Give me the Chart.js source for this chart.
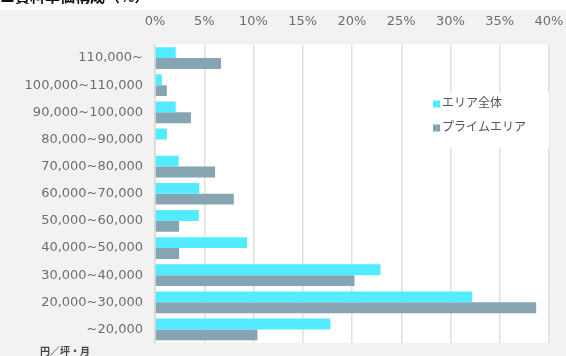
<!DOCTYPE html>
<html>
<head>
<meta charset="utf-8">
<script src="https://cdn.jsdelivr.net/npm/chart.js@4"></script>
<style>
  html, body { margin:0; padding:0; background:#f2f2f2; }
  canvas { display:block; }
</style>
</head>
<body>
<canvas id="rentChart" width="566" height="356"></canvas>
<script>
// ─── DATA ───
const categories = ['110,000~','100,000~110,000','90,000~100,000','80,000~90,000','70,000~80,000',
  '60,000~70,000','50,000~60,000','40,000~50,000','30,000~40,000','20,000~30,000','~20,000'];
const areaAll   = [2.1, 0.7, 2.1, 1.2, 2.4, 4.5, 4.45, 9.35, 22.9, 32.2, 17.8];
const primeArea = [6.7, 1.2, 3.65, 0, 6.1, 8.0, 2.45, 2.45, 20.25, 38.7, 10.4];
const seriesNames = ['エリア全体', 'プライムエリア'];
const xTicks = { min:0, max:40, step:5 };

const FONT = "'DejaVu Sans','Noto Sans CJK JP',sans-serif";
const C = {
  bg: '#f2f2f2', plot: '#ffffff', grid: '#e0e0e0', text: '#6e6e6e',
  cyan: '#52ebff', slate: '#86a4b2'
};

// background, title strip, legend box, unit note
const decor = {
  id: 'decor',
  beforeDraw(chart) {
    const { ctx, chartArea: a } = chart;
    ctx.save();
    ctx.fillStyle = C.bg;
    ctx.fillRect(0, 0, chart.width, chart.height);
    ctx.fillStyle = '#fff';
    ctx.fillRect(0, 0, chart.width, 10);
    ctx.fillStyle = C.plot;
    ctx.fillRect(a.left, a.top, a.right - a.left, a.bottom - a.top);
    // title, mostly cut off at the top edge
    ctx.fillStyle = '#111';
    ctx.font = "bold 15px 'Noto Sans CJK JP',sans-serif";
    ctx.textBaseline = 'alphabetic';
    ctx.fillText('■賃料単価構成（%）', 0, 2);
    ctx.restore();
  },
  afterDraw(chart) {
    const { ctx } = chart;
    ctx.save();
    // legend box
    ctx.fillStyle = '#fff';
    ctx.fillRect(428, 93, 121, 55);
    ctx.font = '12px ' + FONT;
    ctx.textBaseline = 'middle';
    chart.data.datasets.forEach((ds, i) => {
      const y = 104 + i * 24;
      ctx.fillStyle = ds.backgroundColor;
      ctx.fillRect(433, y - 3.5, 7, 7);
      ctx.fillStyle = '#555';
      ctx.fillText(ds.label, 442, y);
    });
    // unit note
    ctx.fillStyle = '#444';
    ctx.font = "bold 10px 'Noto Sans CJK JP',sans-serif";
    ctx.fillText('円／坪・月', 40, 351);
    ctx.restore();
  }
};

new Chart(document.getElementById('rentChart'), {
  type: 'bar',
  data: {
    labels: categories,
    datasets: [
      { label: seriesNames[0], data: areaAll,   backgroundColor: C.cyan,  categoryPercentage: 0.8, barPercentage: 1.0 },
      { label: seriesNames[1], data: primeArea, backgroundColor: C.slate, categoryPercentage: 0.8, barPercentage: 1.0 }
    ]
  },
  options: {
    indexAxis: 'y',
    responsive: false,
    animation: false,
    layout: { padding: { left: 0, right: 17, top: 0, bottom: 13 } },
    plugins: { legend: { display: false }, tooltip: { enabled: false } },
    scales: {
      x: {
        position: 'top',
        min: xTicks.min, max: xTicks.max,
        grid: { color: C.grid, lineWidth: 1.5, drawTicks: false },
        border: { display: false },
        ticks: { stepSize: xTicks.step, color: C.text, font: { size: 13, family: FONT }, padding: 15,
                 callback: v => v + '%' },
        afterFit: s => { s.height = 44.5; s.paddingLeft = 0; s.paddingRight = 0; }
      },
      y: {
        grid: { display: false, drawTicks: false },
        border: { display: true, color: '#d8d8d8', width: 1.5 },
        ticks: { color: C.text, font: { size: 13, family: FONT }, padding: 12 },
        afterFit: s => { s.width = 155; s.paddingTop = 0; s.paddingBottom = 0; }
      }
    }
  },
  plugins: [decor]
});
</script>
</body>
</html>
